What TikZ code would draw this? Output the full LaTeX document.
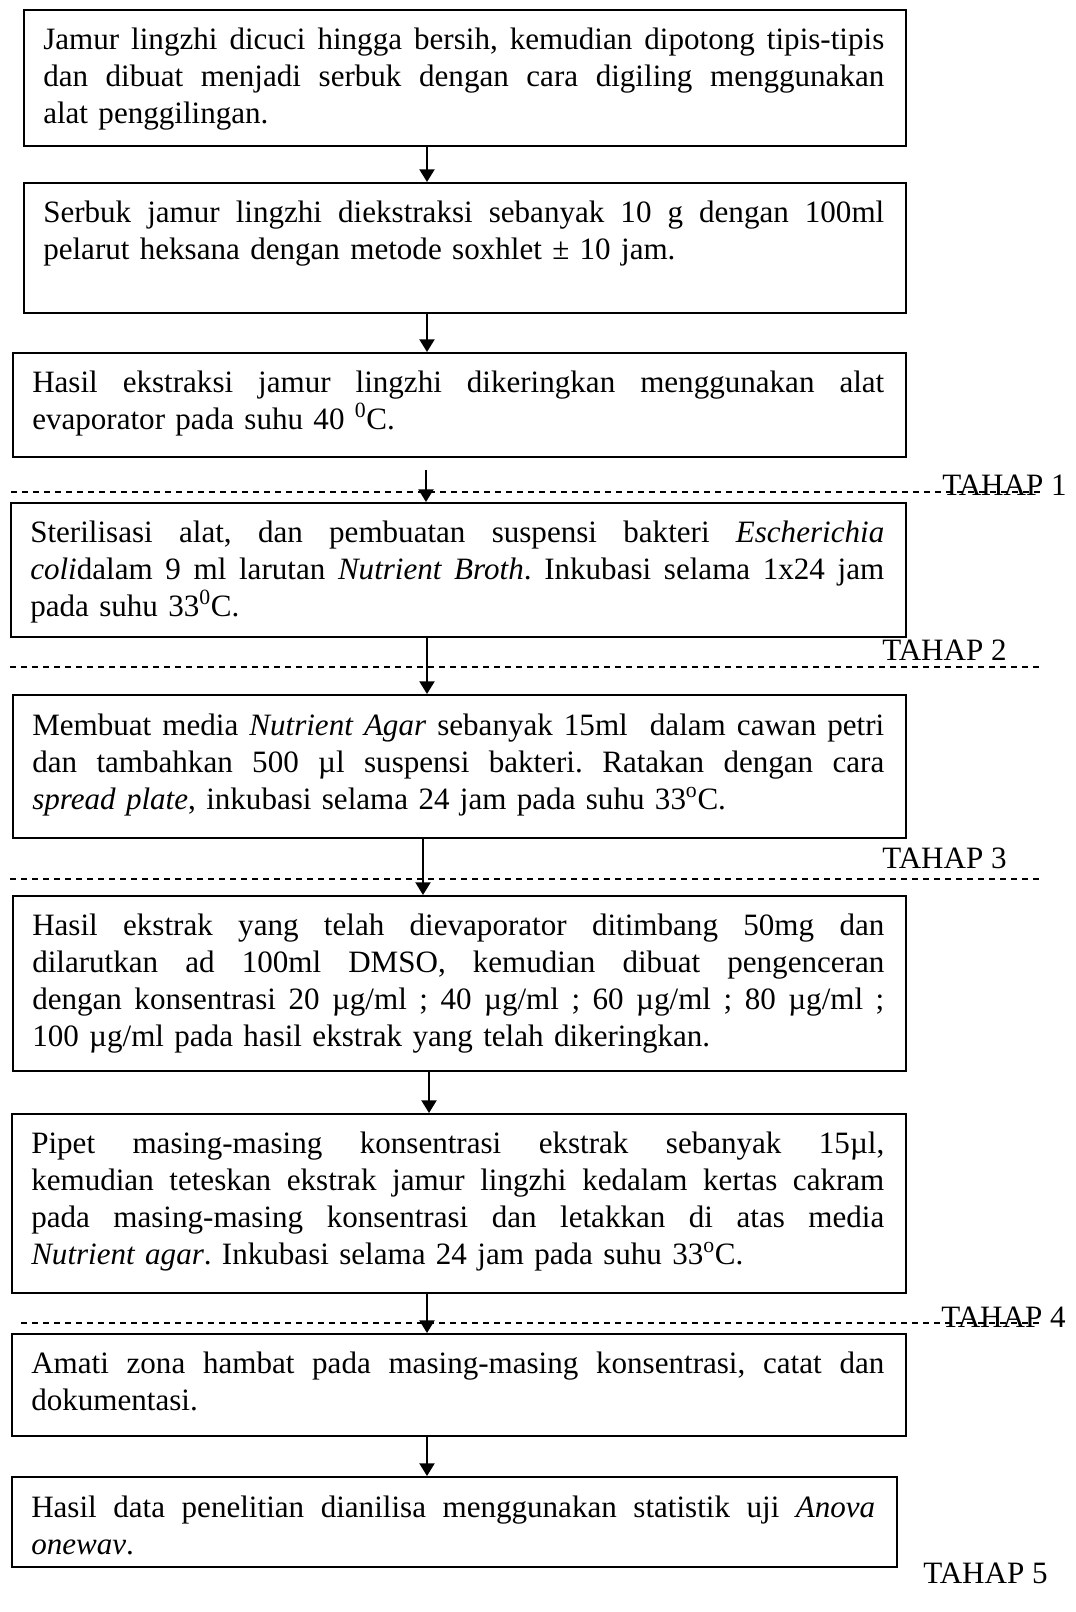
\documentclass[tikz,border=0pt]{standalone}
\usepackage{fontspec}
\setmainfont{Liberation Serif}
\usetikzlibrary{arrows.meta}
\setlength\parindent{0pt}
\frenchspacing
\newlength\tw
\newcommand\jl[1]{\makebox[\tw][s]{\spaceskip=0.25em plus 1fil\xspaceskip=0.25em plus 1fil\relax #1}\\}
\begin{document}
\begin{tikzpicture}[x=0.75pt,y=-0.75pt,
  fbox/.style={draw, line width=1.5pt, anchor=north west, inner sep=0pt},
  ftext/.style={anchor=north west, inner sep=0pt, align=left, text width=#1,
     execute at begin node={\setlength\tw{#1}},
     font=\fontsize{23.3pt}{27.75pt}\selectfont\frenchspacing},
  tahap/.style={anchor=base west, inner sep=0pt, font=\fontsize{23.3pt}{27.75pt}\selectfont},
  arr/.style={line width=1.5pt, -{Triangle[length=9.5pt,width=11.25pt]}},
  sep/.style={line width=1pt, dash pattern=on 4.5pt off 3.75pt}]
\useasboundingbox (0,0) rectangle (1075,1612);

% boxes
\node[fbox, minimum width=661.5pt, minimum height=102pt] (b1) at (23,9) {};
\node[fbox, minimum width=661.5pt, minimum height=97.5pt] (b2) at (23,182) {};
\node[fbox, minimum width=669.75pt, minimum height=78pt] (b3) at (12,352) {};
\node[fbox, minimum width=671.25pt, minimum height=100.5pt] (b4) at (10,502) {};
\node[fbox, minimum width=669.75pt, minimum height=107.25pt] (b5) at (12,694) {};
\node[fbox, minimum width=669.75pt, minimum height=131.25pt] (b6) at (12,895) {};
\node[fbox, minimum width=670.5pt, minimum height=134.25pt] (b7) at (11,1113) {};
\node[fbox, minimum width=670.5pt, minimum height=76.5pt] (b8) at (11,1333) {};
\node[fbox, minimum width=663.75pt, minimum height=67.5pt] (b9) at (11,1476) {};

% texts
\node[ftext=630.75pt] (t1) at (43,27.8) {%
\jl{Jamur lingzhi dicuci hingga bersih, kemudian dipotong tipis-tipis}
\jl{dan dibuat menjadi serbuk dengan cara digiling menggunakan}
alat penggilingan.};
\node[ftext=630.75pt] (t2) at (43,200.8) {%
\jl{Serbuk jamur lingzhi diekstraksi sebanyak 10 g dengan 100ml}
pelarut heksana dengan metode soxhlet ± 10 jam.};
\node[ftext=639pt] (t3) at (32,370.8) {%
\jl{Hasil ekstraksi jamur lingzhi dikeringkan menggunakan alat}
evaporator pada suhu 40 \textsuperscript{0}C.};
\node[ftext=640.5pt] (t4) at (30,520.8) {%
\jl{Sterilisasi alat, dan pembuatan suspensi bakteri \textit{Escherichia}}
\jl{\textit{coli}dalam 9 ml larutan \textit{Nutrient Broth}. Inkubasi selama 1x24 jam}
pada suhu 33\textsuperscript{0}C.};
\node[ftext=639pt] (t5) at (32,713.8) {%
\jl{Membuat media \textit{Nutrient Agar} sebanyak 15ml\ \ dalam cawan petri}
\jl{dan tambahkan 500 µl suspensi bakteri. Ratakan dengan cara}
\textit{spread plate}, inkubasi selama 24 jam pada suhu 33\textsuperscript{o}C.};
\node[ftext=639pt] (t6) at (32,913.8) {%
\jl{Hasil ekstrak yang telah dievaporator ditimbang 50mg dan}
\jl{dilarutkan ad 100ml DMSO, kemudian dibuat pengenceran}
\jl{dengan konsentrasi 20 µg/ml ; 40 µg/ml ; 60 µg/ml ; 80 µg/ml ;}
100 µg/ml pada hasil ekstrak yang telah dikeringkan.};
\node[ftext=639.75pt] (t7) at (31,1131.8) {%
\jl{Pipet masing-masing konsentrasi ekstrak sebanyak 15µl,}
\jl{kemudian teteskan ekstrak jamur lingzhi kedalam kertas cakram}
\jl{pada masing-masing konsentrasi dan letakkan di atas media}
\textit{Nutrient agar}. Inkubasi selama 24 jam pada suhu 33\textsuperscript{o}C.};
\node[ftext=639.75pt] (t8) at (31,1351.8) {%
\jl{Amati zona hambat pada masing-masing konsentrasi, catat dan}
dokumentasi.};
\node[ftext=633pt] (t9) at (31,1495.8) {%
\jl{Hasil data penelitian dianilisa menggunakan statistik uji \textit{Anova}}
\textit{onewav}.};

% separators
\draw[sep] (11,492) -- (1040,492);
\draw[sep] (10,667) -- (1044,667);
\draw[sep] (10,879) -- (1044,879);
\draw[sep] (21,1323) -- (1040,1323);

% stage labels
\node[tahap] (l1) at (942,495) {TAHAP 1};
\node[tahap] (l2) at (882,660) {TAHAP 2};
\node[tahap] (l3) at (882,868) {TAHAP 3};
\node[tahap] (l4) at (941,1327) {TAHAP 4};
\node[tahap] (l5) at (923,1583) {TAHAP 5};

% arrows
\coordinate (xa) at (427,0);
\coordinate (xb) at (423,0);
\coordinate (xc) at (429,0);
\coordinate (s3) at (426,470);
\draw[arr] (b1.south -| xa) -- (b2.north -| xa);
\draw[arr] (b2.south -| xa) -- (b3.north -| xa);
\draw[arr] (s3) -- (b4.north -| s3);
\draw[arr] (b4.south -| xa) -- (b5.north -| xa);
\draw[arr] (b5.south -| xb) -- (b6.north -| xb);
\draw[arr] (b6.south -| xc) -- (b7.north -| xc);
\draw[arr] (b7.south -| xa) -- (b8.north -| xa);
\draw[arr] (b8.south -| xa) -- (b9.north -| xa);
\end{tikzpicture}
\end{document}
